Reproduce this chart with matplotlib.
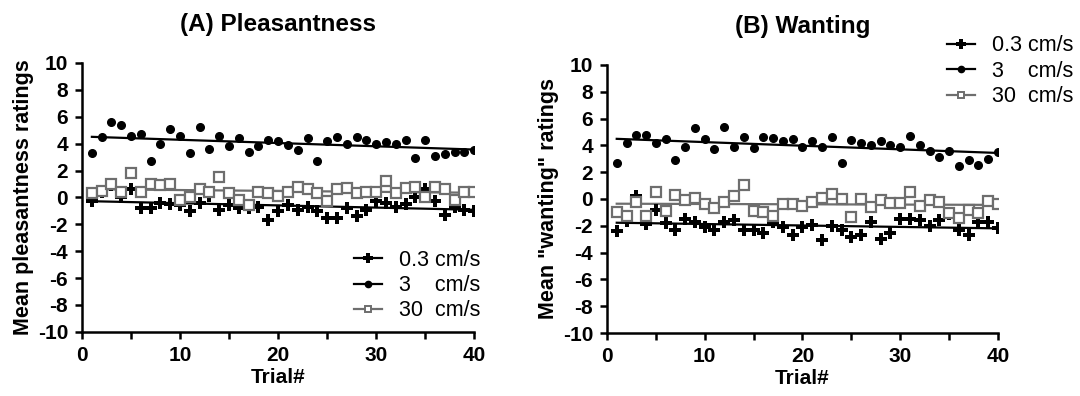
#!/usr/bin/env python3
"""Mean ratings per trial for three stroking velocities."""

import matplotlib
matplotlib.use("Agg")
import matplotlib.pyplot as plt
import numpy as np

trials = np.arange(1, 41)

# (A) Pleasantness
pleas_03 = [-0.3, 0.4, 0.9, 0.0, 0.6, -0.8, -0.8, -0.4, -0.5, -0.6,
            -1.0, -0.4, 0.1, -0.9, -0.6, -0.8, -0.8, -0.7, -1.7, -1.0,
            -0.6, -0.9, -0.7, -1.0, -1.5, -1.5, -0.8, -1.4, -0.9, -0.3,
            -0.4, -0.7, -0.5, 0.0, 0.6, -0.3, -1.3, -0.7, -0.9, -1.0]
pleas_3 = [3.3, 4.5, 5.6, 5.4, 4.6, 4.7, 2.7, 4.0, 5.1, 4.6,
           3.3, 5.2, 3.6, 4.6, 3.8, 4.4, 3.4, 3.8, 4.3, 4.2,
           3.9, 3.5, 4.4, 2.7, 4.2, 4.5, 4.0, 4.5, 4.3, 4.0,
           4.1, 4.0, 4.3, 2.9, 4.3, 3.1, 3.2, 3.4, 3.4, 3.5]
pleas_30 = [0.3, 0.5, 1.0, 0.4, 1.8, 0.4, 1.0, 0.9, 1.0, -0.2,
            0.0, 0.6, 0.4, 1.5, 0.3, -0.2, -0.6, 0.4, 0.3, 0.1,
            0.4, 0.8, 0.6, 0.3, -0.3, 0.6, 0.7, 0.3, 0.4, 0.4,
            1.2, 0.3, 0.7, 0.8, 0.0, 0.8, 0.6, -0.2, 0.4, 0.4]

# (B) Wanting
want_03 = [-2.4, -1.65, 0.2, -1.9, -0.8, -1.8, -2.3, -1.5, -1.75, -2.1,
           -2.3, -1.75, -1.55, -2.3, -2.3, -2.5, -1.7, -2.1, -2.7, -2.1,
           -1.95, -3.05, -2.0, -2.35, -2.8, -2.7, -1.7, -2.95, -2.55, -1.5,
           -1.5, -1.55, -2.0, -1.55, -1.15, -2.35, -2.7, -1.7, -1.7, -2.2]
want_3 = [2.66, 4.15, 4.8, 4.75, 4.2, 4.45, 2.9, 3.85, 5.3, 4.5,
          3.7, 5.4, 3.9, 4.6, 3.8, 4.6, 4.55, 4.3, 4.45, 3.9,
          4.3, 3.9, 4.6, 2.7, 4.4, 4.2, 4.0, 4.3, 4.05, 3.85,
          4.7, 4.0, 3.55, 3.1, 3.6, 2.46, 2.9, 2.55, 3.0, 3.5]
want_30 = [-1.0, -1.25, -0.2, -1.3, 0.55, -0.9, 0.3, -0.1, 0.1, -0.4,
           -0.7, -0.2, 0.25, 1.05, -0.9, -1.0, -1.25, -0.4, -0.35, -0.55,
           -0.2, 0.1, 0.4, 0.0, -1.35, 0.0, -0.6, -0.1, -0.3, -0.3,
           0.5, -0.55, -0.1, -0.25, -1.05, -1.45, -0.8, -1.05, -0.15, -0.35]

labels = ["0.3 cm/s", "3    cm/s", "30  cm/s"]
GRAY = "#6e6e6e"

plt.rcParams["font.family"] = ["Liberation Sans", "DejaVu Sans"]
plt.rcParams["axes.unicode_minus"] = False


def draw_panel(ax, s03, s3, s30, title, ylabel):
    # (values, colour, marker style on plot, marker style in legend)
    styles = [
        (s03, "black", dict(marker="P", markersize=8.5, markeredgewidth=0),
         dict(marker="P", markersize=6.5, markeredgewidth=0)),
        (s3, "black", dict(marker="o", markersize=5.5),
         dict(marker="o", markersize=4.5)),
        (s30, GRAY, dict(marker="s", markerfacecolor="white", markeredgecolor=GRAY,
                         markersize=6.5, markeredgewidth=1.6),
         dict(marker="s", markerfacecolor="white", markeredgecolor=GRAY,
              markersize=5, markeredgewidth=1.4)),
    ]
    handles = []
    for (vals, col, st, leg_st), lab in zip(styles, labels):
        vals = np.asarray(vals)
        ax.plot(trials, vals, linestyle="none", color=col, zorder=3, **st)
        slope, icpt = np.polyfit(trials, vals, 1)
        ax.plot(trials, slope * trials + icpt, color=col, lw=1.6, zorder=2)
        h, = ax.plot([], [], color=col, lw=1.6, label=lab, **leg_st)
        handles.append(h)

    ax.set_xlim(0, 40)
    ax.set_ylim(-10, 10)
    ax.set_xticks([0, 10, 20, 30, 40])
    ax.set_xticks([5, 15, 25, 35], minor=True)
    ax.set_yticks(range(-10, 11, 2))
    for s in ("top", "right"):
        ax.spines[s].set_visible(False)
    for s in ("left", "bottom"):
        ax.spines[s].set_linewidth(1.8)
    ax.tick_params(which="both", direction="out", length=5, width=1.8,
                   labelsize=15, pad=5)
    for t in ax.get_xticklabels() + ax.get_yticklabels():
        t.set_fontweight("bold")
    ax.set_xlabel("Trial#", fontsize=15, fontweight="bold", labelpad=2)
    ax.set_ylabel(ylabel, fontsize=15.5, fontweight="bold", labelpad=3)
    ax.set_title(title, fontsize=17.5, fontweight="bold", pad=23)
    return handles


fig = plt.figure(figsize=(10.8, 3.96), dpi=100)
ax_a = fig.add_axes([0.076, 0.162, 0.363, 0.679])
ax_b = fig.add_axes([0.562, 0.159, 0.362, 0.677])

h_a = draw_panel(ax_a, pleas_03, pleas_3, pleas_30,
                 "(A) Pleasantness", "Mean pleasantness ratings")
h_b = draw_panel(ax_b, want_03, want_3, want_30,
                 "(B) Wanting", 'Mean "wanting" ratings')

leg_kw = dict(frameon=False, fontsize=15.5, handlelength=1.3, handletextpad=0.8,
              labelspacing=0.2, borderpad=0, borderaxespad=0, loc="upper left")
ax_a.legend(handles=h_a, bbox_to_anchor=(0.694, 0.305), **leg_kw)
ax_b.legend(handles=h_b, bbox_to_anchor=(0.87, 1.11), **leg_kw)

fig.savefig("out.png", dpi=100)
